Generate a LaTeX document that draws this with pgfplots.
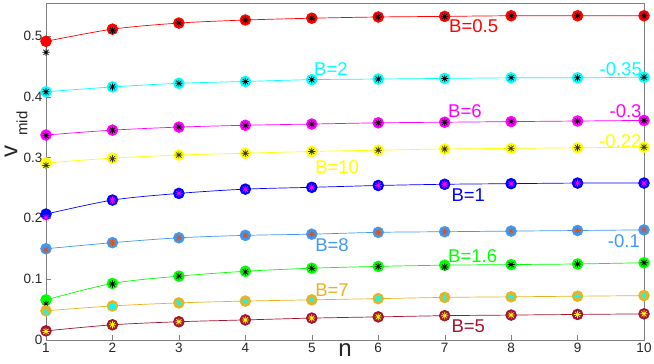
\documentclass[border=0pt]{standalone}
\usepackage{pgfplots}
\pgfplotsset{compat=1.18}
\usepackage{fontspec}
\setmainfont{Liberation Sans}

\definecolor{mred}{rgb}{1,0,0}
\definecolor{mcyan}{rgb}{0,1,1}
\definecolor{mmag}{rgb}{1,0,1}
\definecolor{myel}{rgb}{1,1,0}
\definecolor{mblue}{rgb}{0,0,1}
\definecolor{mgreen}{rgb}{0,1,0}
\definecolor{lblue}{rgb}{0.25,0.6,0.95}
\definecolor{morange}{rgb}{0.929,0.694,0.125}
\definecolor{mdred}{rgb}{0.635,0.078,0.184}
\definecolor{mbrown}{rgb}{0.85,0.325,0.098}
\definecolor{axgray}{rgb}{0.5,0.5,0.5}

% MATLAB-like asterisk, 8 rays
\pgfdeclareplotmark{ast8}{%
  \pgfpathmoveto{\pgfqpoint{-\pgfplotmarksize}{0pt}}\pgfpathlineto{\pgfqpoint{\pgfplotmarksize}{0pt}}%
  \pgfpathmoveto{\pgfqpoint{0pt}{-\pgfplotmarksize}}\pgfpathlineto{\pgfqpoint{0pt}{\pgfplotmarksize}}%
  \pgfpathmoveto{\pgfqpoint{-0.707\pgfplotmarksize}{-0.707\pgfplotmarksize}}\pgfpathlineto{\pgfqpoint{0.707\pgfplotmarksize}{0.707\pgfplotmarksize}}%
  \pgfpathmoveto{\pgfqpoint{-0.707\pgfplotmarksize}{0.707\pgfplotmarksize}}\pgfpathlineto{\pgfqpoint{0.707\pgfplotmarksize}{-0.707\pgfplotmarksize}}%
  \pgfusepathqstroke}

\pgfplotsset{
  ln/.style={#1, line width=0.7pt, smooth, mark=*, mark size=5.4pt, mark options={solid, fill=#1, draw=#1}},
  st/.style={only marks, mark=ast8, mark size=3.6pt, mark options={draw=#1, line width=0.7pt}},
}
\tikzset{lab/.style={text=#1, inner sep=0pt, font=\fontsize{18.5}{20}\selectfont}}

\begin{document}
\begin{tikzpicture}
\begin{axis}[scale only axis, width=598pt, height=337pt,
  xmin=1, xmax=10, ymin=0, ymax=0.554,
  xtick={1,2,3,4,5,6,7,8,9,10}, ytick={0,0.1,0.2,0.3,0.4,0.5},
  tick align=inside, xtick pos=bottom, ytick pos=left,
  axis line style={axgray}, major tick length=5pt, tick style={axgray},
  ticklabel style={font=\fontsize{13.5}{16}\selectfont, text=black!85},
  /pgf/number format/assume math mode=true,
  clip=false]

% B=0.5
\addplot[ln=mred] coordinates {(1,0.491)(2,0.511)(3,0.521)(4,0.526)(5,0.529)(6,0.531)(7,0.532)(8,0.533)(9,0.533)(10,0.533)};
\addplot[st=black] coordinates {(1,0.473)(2,0.509)(3,0.521)(4,0.526)(5,0.529)(6,0.531)(7,0.532)(8,0.533)(9,0.533)(10,0.533)};
% B=2
\addplot[ln=mcyan] coordinates {(1,0.408)(2,0.416)(3,0.422)(4,0.425)(5,0.428)(6,0.429)(7,0.430)(8,0.431)(9,0.431)(10,0.432)};
\addplot[st=black] coordinates {(1,0.408)(2,0.416)(3,0.422)(4,0.425)(5,0.428)(6,0.429)(7,0.430)(8,0.431)(9,0.431)(10,0.432)};
% B=6
\addplot[ln=mmag] coordinates {(1,0.337)(2,0.345)(3,0.350)(4,0.353)(5,0.355)(6,0.357)(7,0.358)(8,0.359)(9,0.360)(10,0.361)};
\addplot[st=black] coordinates {(1,0.336)(2,0.345)(3,0.350)(4,0.353)(5,0.355)(6,0.357)(7,0.358)(8,0.359)(9,0.360)(10,0.361)};
% B=10
\addplot[ln=myel] coordinates {(1,0.291)(2,0.299)(3,0.304)(4,0.307)(5,0.310)(6,0.312)(7,0.314)(8,0.315)(9,0.316)(10,0.317)};
\addplot[st=black!80] coordinates {(1,0.287)(2,0.298)(3,0.304)(4,0.307)(5,0.310)(6,0.312)(7,0.314)(8,0.315)(9,0.316)(10,0.317)};
% B=1
\addplot[ln=mblue] coordinates {(1,0.207)(2,0.230)(3,0.241)(4,0.248)(5,0.251)(6,0.254)(7,0.256)(8,0.257)(9,0.258)(10,0.258)};
\addplot[st=mmag] coordinates {(1,0.201)(2,0.230)(3,0.241)(4,0.248)(5,0.251)(6,0.254)(7,0.256)(8,0.257)(9,0.258)(10,0.258)};
% B=8
\addplot[ln=lblue] coordinates {(1,0.150)(2,0.160)(3,0.168)(4,0.172)(5,0.174)(6,0.177)(7,0.178)(8,0.179)(9,0.180)(10,0.181)};
\addplot[st=mbrown] coordinates {(1,0.148)(2,0.160)(3,0.168)(4,0.172)(5,0.174)(6,0.177)(7,0.178)(8,0.179)(9,0.180)(10,0.181)};
% B=1.6
\addplot[ln=mgreen] coordinates {(1,0.066)(2,0.093)(3,0.105)(4,0.113)(5,0.118)(6,0.121)(7,0.123)(8,0.124)(9,0.125)(10,0.127)};
\addplot[st=black] coordinates {(1,0.059)(2,0.092)(3,0.105)(4,0.112)(5,0.118)(6,0.121)(7,0.120)(8,0.124)(9,0.125)(10,0.127)};
% B=7
\addplot[ln=morange] coordinates {(1,0.048)(2,0.056)(3,0.061)(4,0.064)(5,0.066)(6,0.068)(7,0.070)(8,0.071)(9,0.072)(10,0.073)};
\addplot[st=mcyan] coordinates {(1,0.046)(2,0.055)(3,0.061)(4,0.064)(5,0.066)(6,0.068)(7,0.070)(8,0.071)(9,0.072)(10,0.073)};
% B=5
\addplot[ln=mdred] coordinates {(1,0.015)(2,0.025)(3,0.030)(4,0.033)(5,0.036)(6,0.038)(7,0.040)(8,0.041)(9,0.042)(10,0.043)};
\addplot[st=myel] coordinates {(1,0.014)(2,0.025)(3,0.030)(4,0.033)(5,0.036)(6,0.038)(7,0.040)(8,0.041)(9,0.042)(10,0.043)};

\node[lab=mred, anchor=west] at (axis cs:7.065,0.5156) {B=0.5};
\node[lab=mcyan, anchor=west] at (axis cs:5.034,0.446) {B=2};
\node[lab=mcyan, anchor=east] at (axis cs:9.97,0.4455) {-0.35};
\node[lab=mmag, anchor=west] at (axis cs:7.05,0.376) {B=6};
\node[lab=mmag, anchor=east] at (axis cs:9.965,0.376) {-0.3};
\node[lab=myel, anchor=east] at (axis cs:9.965,0.327) {-0.22};
\node[lab=myel, anchor=west] at (axis cs:5.05,0.2836) {B=10};
\node[lab=mblue, anchor=west] at (axis cs:7.1,0.2384) {B=1};
\node[lab=lblue, anchor=west] at (axis cs:5.05,0.156) {B=8};
\node[lab=lblue, anchor=east] at (axis cs:9.94,0.1627) {-0.1};
\node[lab=mgreen, anchor=west] at (axis cs:7.05,0.138) {B=1.6};
\node[lab=morange, anchor=west] at (axis cs:5.05,0.0822) {B=7};
\node[lab=mdred, anchor=west] at (axis cs:7.1,0.0219) {B=5};

\node[anchor=base, inner sep=0pt, text=black!85, font=\fontsize{24}{24}\selectfont] at ([yshift=-17pt]rel axis cs:0.5,0) {n};
\node[rotate=90, anchor=base west, inner sep=0pt, text=black!85] at ([xshift=-28.5pt]rel axis cs:0,0.540)
  {{\fontsize{24}{24}\selectfont v}\hspace{10pt}\raisebox{-10pt}{\fontsize{15}{15}\selectfont mid}};
\end{axis}
\pgfresetboundingbox
\path[use as bounding box] ([shift={(-46pt,-24pt)}]current axis.south west) rectangle ([shift={(10pt,3pt)}]current axis.north east);
\end{tikzpicture}
\end{document}
